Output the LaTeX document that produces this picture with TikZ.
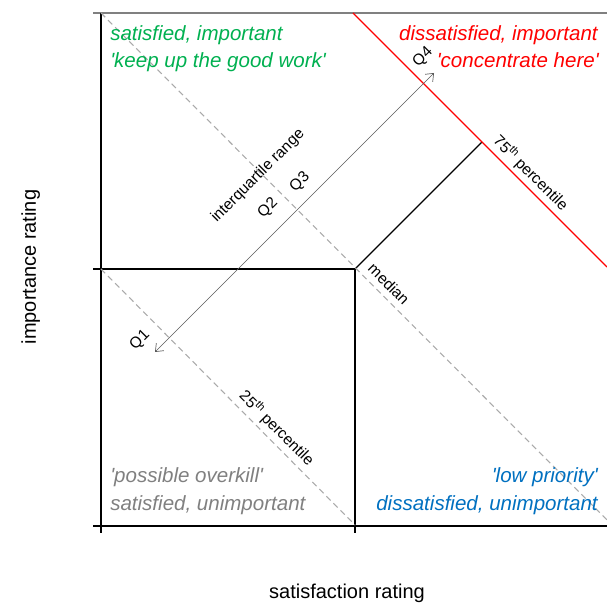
\documentclass[tikz,border=0pt]{standalone}
\usepackage{fontspec}
\setmainfont{Liberation Sans}[Ligatures=TeXOff]
\usetikzlibrary{arrows.meta}
\definecolor{goodgreen}{RGB}{0,176,80}
\definecolor{hotred}{RGB}{255,0,0}
\definecolor{midgray}{RGB}{128,128,128}
\definecolor{lightgray}{RGB}{170,170,170}
\definecolor{lowblue}{RGB}{0,112,192}
\definecolor{arrowgray}{RGB}{90,90,90}
\tikzset{
  axisline/.style={black, line width=1pt},
  gridtop/.style={midgray, line width=1.2pt},
  pctline/.style={lightgray, line width=0.8pt, dash pattern=on 4.5pt off 3pt},
  redline/.style={hotred, line width=1pt},
  iqr/.style={arrowgray, line width=0.5pt,
    {Straight Barb[length=5pt,width=8pt]}-{Straight Barb[length=5pt,width=8pt]}},
  quad/.style={inner sep=0pt, font=\fontsize{15.4}{18}\selectfont\itshape},
  axislabel/.style={inner sep=0pt, font=\fontsize{15}{18}\selectfont},
  small/.style={inner sep=0pt, font=\fontsize{11.6}{13}\selectfont},
}
\begin{document}
\begin{tikzpicture}[x=0.75pt, y=-0.75pt]
\useasboundingbox (0,0) rectangle (607,605);

% frame points (pixel grid, y downwards)
\coordinate (topL)  at (93,13);
\coordinate (topR)  at (607,13);
\coordinate (corner) at (101,13);
\coordinate (axisEnd) at (101,533);
\coordinate (midL)  at (93,269);
\coordinate (med)   at (355,269);
\coordinate (medLow) at (355,533);
\coordinate (botL)  at (93,526);
\coordinate (botR)  at (607,526);
\coordinate (tickB) at (355,526);
\coordinate (p75)   at (482,142);
\coordinate (redTop) at (353,13);
\coordinate (redEnd) at (607,267);
\coordinate (dashMedEnd) at (607,520);
\coordinate (midAxis) at (101,269);
\coordinate (dashLowEnd) at (355,525);
\coordinate (qLow)  at (155,352);
\coordinate (qHigh) at (434,73);

% axes and quadrant lines
\draw[gridtop] (topL) -- (topR);
\draw[axisline] (corner) -- (axisEnd);
\draw[axisline] (botL) -- (botR);
\draw[axisline] (midL) -- (med) -- (medLow);
\draw[axisline] (med) -- (p75);

% percentile lines
\draw[pctline] (corner) -- (dashMedEnd);
\draw[pctline] (midAxis) -- (dashLowEnd);
\draw[redline] (redTop) -- (redEnd);

% interquartile range
\draw[iqr] (qLow) -- (qHigh);

% quadrant captions
\node[quad, text=goodgreen, anchor=base west] (tl1) at (110,41) {satisfied, important};
\node[quad, text=goodgreen, anchor=base west] (tl2) at (110,68) {'keep up the good work'};
\node[quad, text=hotred, anchor=base east] (tr1) at (598,41) {dissatisfied, important};
\node[quad, text=hotred, anchor=base east] (tr2) at (599,68) {'concentrate here'};
\node[quad, text=midgray, anchor=base west] (bl1) at (110,483) {'possible overkill'};
\node[quad, text=midgray, anchor=base west] (bl2) at (110,511) {satisfied, unimportant};
\node[quad, text=lowblue, anchor=base east] (br1) at (598,483) {'low priority'};
\node[quad, text=lowblue, anchor=base east] (br2) at (598,511) {dissatisfied, unimportant};

% axis titles
\node[axislabel, anchor=base] (xlab) at (347,599) {satisfaction rating};
\node[axislabel, anchor=base, rotate=90] (ylab) at (36,267) {importance rating};

% line labels
\node[small, rotate=45] (iqrlab) at (258,176) {interquartile range};
\node[small, rotate=45] (q1) at (140,340) {Q1};
\node[small, rotate=45] (q2) at (268,208) {Q2};
\node[small, rotate=45] (q3) at (300,182) {Q3};
\node[small, rotate=45] (q4) at (423,57) {Q4};
\node[small, rotate=-45] (medlab) at (389,284) {median};
\node[small, rotate=-45] (p75lab) at (531,173) {75\textsuperscript{th} percentile};
\node[small, rotate=-45] (p25lab) at (277,428) {25\textsuperscript{th} percentile};
\end{tikzpicture}
\end{document}
